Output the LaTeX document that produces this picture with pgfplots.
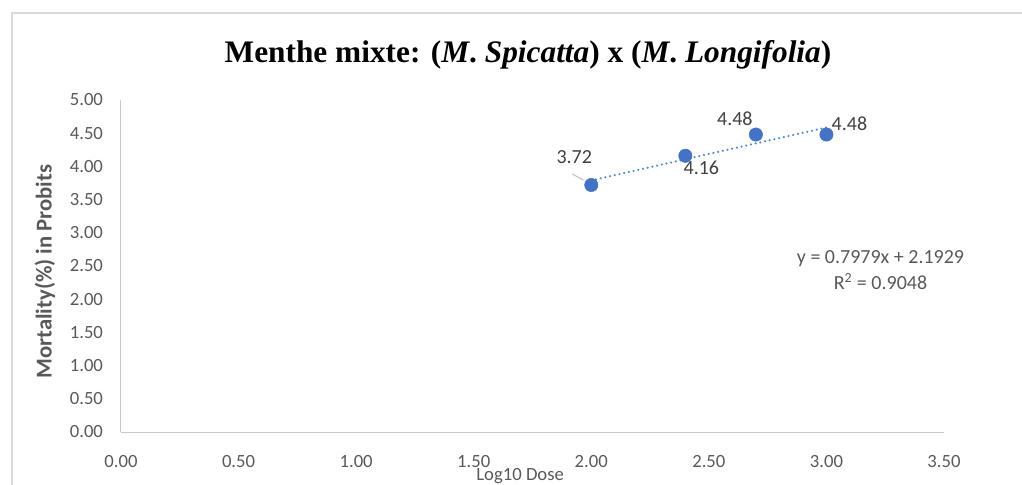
\documentclass[border=0pt]{standalone}
\usepackage{fontspec}
\usepackage{pgfplots}
\usepackage{pgfplotstable}
\pgfplotsset{compat=1.18}
\setmainfont{Carlito}
\newfontfamily\titlefont{Liberation Serif}
\definecolor{markblue}{RGB}{68,114,196}
\definecolor{trendblue}{RGB}{80,140,205}
\definecolor{txtgray}{RGB}{89,89,89}
\definecolor{lblgray}{RGB}{64,64,64}
\definecolor{axgray}{RGB}{200,200,200}
\definecolor{framegray}{RGB}{217,217,217}

\pgfplotstableread{
x y dx dy
2.00 3.72 -17 28
2.40 4.16 16 -12
2.70 4.48 -21 16
3.00 4.48 23 11
}\datatable

\pgfplotstableread{
x y
2.00 3.7887
3.00 4.5866
}\trendtable

\begin{document}
\begin{tikzpicture}[x=0.75pt,y=-0.75pt]
\useasboundingbox (0,0) rectangle (1022,485);
\draw[framegray, line width=1pt] (12,485) -- (12,13) -- (1022,13);
\node[font=\titlefont\bfseries\fontsize{23.5}{27}\selectfont, anchor=base] at (528,63)
  {Menthe mixte: (\textit{M}. \textit{Spicatta}) x (\textit{M}. \textit{Longifolia})};
\begin{axis}[
  at={(90.75pt,-324pt)}, anchor=south west,
  scale only axis, width=617.25pt, height=249pt,
  xmin=0, xmax=3.5, ymin=0, ymax=5,
  axis x line*=bottom, axis y line*=left,
  axis line style={axgray, line width=0.75pt},
  xtick={0,0.5,1,1.5,2,2.5,3,3.5},
  ytick={0,0.5,1,1.5,2,2.5,3,3.5,4,4.5,5},
  major tick length=0pt,
  /pgf/number format/fixed,
  /pgf/number format/fixed zerofill,
  /pgf/number format/precision=2,
  /pgf/number format/assume math mode=true,
  tick label style={font=\fontsize{14}{16}\selectfont, text=txtgray},
  yticklabel style={xshift=-10pt},
  xticklabel style={yshift=-14pt},
  xlabel={Log10 Dose},
  ylabel={Mortality(\%) in Probits},
  label style={font=\fontsize{14}{16}\selectfont, text=txtgray},
  xlabel style={at={(axis description cs:0.485,-0.1325)}, anchor=center},
  ylabel style={at={(axis description cs:-0.0923,0.483)}, anchor=center, font=\fontsize{17}{19}\selectfont\bfseries},
  clip=false,
]
\addplot[trendblue, line width=1.8pt, dash pattern=on 0.01pt off 3.6pt, line cap=round, no marks]
  table[x=x,y=y] {\trendtable};
\addplot[only marks, mark=*, mark size=5pt, color=markblue, mark options={fill=markblue, draw=markblue},
  visualization depends on={\thisrow{dx}\as\dx},
  visualization depends on={\thisrow{dy}\as\dy},
  nodes near coords={\pgfmathprintnumber[fixed,fixed zerofill,precision=2,assume math mode=true]{\pgfplotspointmeta}},
  nodes near coords style={anchor=center, xshift=\dx*0.75pt, yshift=\dy*0.75pt,
    font=\fontsize{15}{17}\selectfont, text=lblgray},
  ] table[x=x,y=y] {\datatable};
\draw[gray!50, line width=0.75pt] (axis cs:1.919,3.886) -- (axis cs:1.966,3.795);
\node[align=center, font=\fontsize{15}{19}\selectfont, text=txtgray] at (axis cs:3.23,2.44)
  {y = 0.7979x + 2.1929\\R\textsuperscript{2} = 0.9048};
\end{axis}
\end{tikzpicture}
\end{document}
